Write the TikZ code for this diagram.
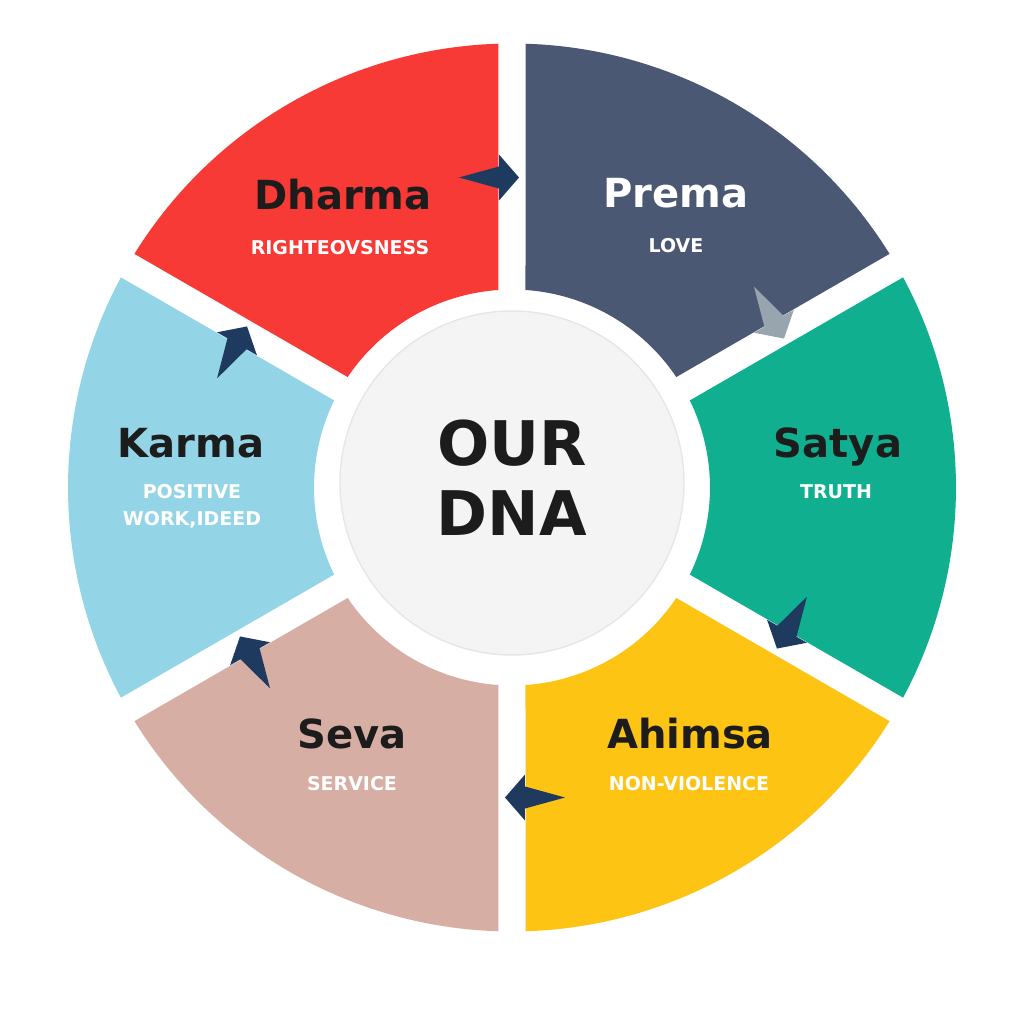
\documentclass[tikz,border=0pt]{standalone}
\usepackage{fontspec}
\setmainfont{DejaVu Sans}
\definecolor{dharmared}{HTML}{F73A36}
\definecolor{premaslate}{HTML}{4B5873}
\definecolor{satyateal}{HTML}{0FAF8F}
\definecolor{ahimsagold}{HTML}{FDC414}
\definecolor{sevarose}{HTML}{D7AEA3}
\definecolor{karmasky}{HTML}{93D5E7}
\definecolor{hubgrey}{HTML}{F4F4F4}
\definecolor{hubline}{HTML}{E6E6E6}
\definecolor{inkdark}{HTML}{1C1C1C}
\definecolor{arrownavy}{HTML}{1E3A5F}
\definecolor{arrowgrey}{HTML}{98A4AE}
\tikzset{title/.style={font=\bfseries\fontsize{11.4}{13}\selectfont,text=inkdark,anchor=base,inner sep=0pt}}
\tikzset{subtitle/.style={font=\bfseries\fontsize{5.4}{6.5}\selectfont,text=white,anchor=base,inner sep=0pt}}
\tikzset{hubtext/.style={font=\bfseries\fontsize{17.5}{20}\selectfont,text=inkdark,anchor=base,inner sep=0pt}}
\tikzset{hub/.style={circle,fill=hubgrey,draw=hubline,line width=0.4pt,minimum size=3.44cm,inner sep=0pt}}
\newcommand{\ringpiece}[3]{\fill[#3] (#1+3.91:1.98) -- (#1+1.75:4.44) arc[start angle=#1+1.75, end angle=#2-1.75, radius=4.44] -- (#2-3.91:1.98) arc[start angle=#2-3.91, end angle=#1+3.91, radius=1.98] -- cycle;}
\newcommand{\ringarrow}[2]{\begin{scope}[shift={(#1:3.1)},shift={(#1-90:0.07)},rotate=#1-90]
  \fill[#2] (0,0) -- (-0.2,0.23) -- (-0.2,0.11) -- (-0.6,0) -- (-0.2,-0.11) -- (-0.2,-0.23) -- cycle;
\end{scope}}
\begin{document}
\begin{tikzpicture}
    \useasboundingbox (-5.12,-5.39) rectangle (5.12,4.85);
    \begin{scope}[yshift=-0.025cm]
    \ringpiece{30}{90}{premaslate}
    \ringpiece{90}{150}{dharmared}
    \ringpiece{150}{210}{karmasky}
    \ringpiece{210}{270}{sevarose}
    \ringpiece{270}{330}{ahimsagold}
    \ringpiece{-30}{30}{satyateal}
    \end{scope}
    \node[hub] (core) at (0,0.02) {};
    \begin{scope}[yshift=-0.025cm]
    \ringarrow{90}{arrownavy}
    \ringarrow{30}{arrowgrey}
    \ringarrow{-30}{arrownavy}
    \ringarrow{-90}{arrownavy}
    \ringarrow{-150}{arrownavy}
    \ringarrow{150}{arrownavy}
    \end{scope}
    \node[hubtext] (our) at (0,0.20) {OUR};
    \node[hubtext] (dna) at (0,-0.50) {DNA};
    \node[title] (dharma) at (-1.69,2.75) {Dharma};
    \node[subtitle] (dharmasub) at (-1.72,2.30) {RIGHTEOVSNESS};
    \node[title,text=white] (prema) at (1.64,2.77) {Prema};
    \node[subtitle] (premasub) at (1.64,2.32) {LOVE};
    \node[title] (satya) at (3.26,0.28) {Satya};
    \node[subtitle] (satyasub) at (3.24,-0.13) {TRUTH};
    \node[title] (ahimsa) at (1.78,-2.63) {Ahimsa};
    \node[subtitle] (ahimsasub) at (1.77,-3.05) {NON-VIOLENCE};
    \node[title] (seva) at (-1.60,-2.63) {Seva};
    \node[subtitle] (sevasub) at (-1.60,-3.05) {SERVICE};
    \node[title] (karma) at (-3.21,0.28) {Karma};
    \node[subtitle] (karmasub) at (-3.20,-0.13) {POSITIVE};
    \node[subtitle] (karmasubb) at (-3.20,-0.40) {WORK,IDEED};
\end{tikzpicture}
\end{document}
